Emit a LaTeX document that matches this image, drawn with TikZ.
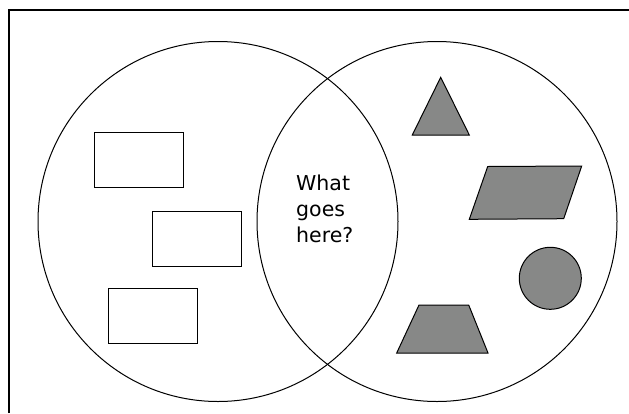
\documentclass[tikz,border=0pt]{standalone}
\usepackage{fontspec}
\setmainfont{DejaVu Sans}
\usetikzlibrary{positioning}
\definecolor{shapegray}{RGB}{135,136,135}

\begin{document}
\begin{tikzpicture}[
        x=1pt,
        y=-1pt,
        set/.style={draw, circle, minimum size=360pt, inner sep=0pt, line width=1pt},
        box/.style={draw, rectangle, minimum width=89pt, minimum height=55pt, inner sep=0pt, line width=1pt},
        grayshape/.style={fill=shapegray, draw=black, line width=1pt}
    ]
        \useasboundingbox (0,0) rectangle (629,413);
        \draw[line width=1.5pt] (9,413) -- (9,10) -- (629,10);

        % the two sets
        \node[set] (left) at (218,221.5) {};
        \node[set] (right) at (437,221.5) {};

        % left set: rectangles
        \node[box] (box1) at (138.5,159.5) {};
        \node[box] (box2) at (196.5,239) {};
        \node[box] (box3) at (152.5,315.5) {};

        % right set: gray shapes
        \draw[grayshape] (440.7,77.3) -- (469.3,135) -- (412.3,135) -- cycle;
        \draw[grayshape] (487.7,166.5) -- (581.7,166) -- (563.7,218.7) -- (469.3,219.3) -- cycle;
        \node[grayshape, circle, minimum size=62pt, inner sep=0pt] (dot) at (550.3,278.3) {};
        \draw[grayshape] (419,305) -- (468.7,305) -- (488,353) -- (396.7,353) -- cycle;

        % the overlap
        \node[align=left, font=\fontsize{20.5}{26}\selectfont, inner sep=0pt, anchor=north west] (question) at (296,174.5) {What\\goes\\here?};
    \end{tikzpicture}
\end{document}
